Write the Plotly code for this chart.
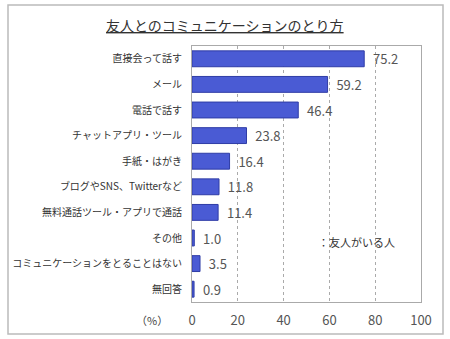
import plotly.graph_objects as go

categories = [
    "直接会って話す", "メール", "電話で話す", "チャットアプリ・ツール", "手紙・はがき",
    "ブログやSNS、Twitterなど", "無料通話ツール・アプリで通話", "その他",
    "コミュニケーションをとることはない", "無回答",
]
values = [75.2, 59.2, 46.4, 23.8, 16.4, 11.8, 11.4, 1.0, 3.5, 0.9]
tick_vals = [0, 20, 40, 60, 80, 100]
title_text = "友人とのコミュニケーションのとり方"
series_name = "：友人がいる人"

FONT = "Noto Sans CJK JP"
L, R, T, B = 192, 421, 46, 302
W, H = 450, 339

def px_x(p):
    return (p - L) / (R - L)

def px_y(p):
    return (B - p) / (B - T)

fig = go.Figure(go.Bar(
    y=categories, x=values, orientation="h",
    marker=dict(color="#4a5bd4", line=dict(color="#2f3ca6", width=1)),
    width=0.62,
    texttemplate="\u00a0\u00a0%{x:.1f}", textposition="outside", constraintext="none",
    textfont=dict(family=FONT, size=13, color="#555"),
    cliponaxis=False, name=series_name,
))

fig.update_layout(
    width=W, height=H, autosize=False,
    margin=dict(l=L, r=W - R, t=T, b=H - B, pad=0),
    paper_bgcolor="white", plot_bgcolor="white",
    showlegend=False,
    font=dict(family=FONT, color="#333"),
    xaxis=dict(
        range=[0, 100], tickvals=tick_vals, ticks="", showgrid=True,
        gridcolor="#aaa", griddash="dot", gridwidth=1, zeroline=False,
        showline=True, linecolor="#aaa", mirror=True, automargin=False,
        tickfont=dict(family=FONT, size=13, color="#555"), ticklabelstandoff=6,
    ),
    yaxis=dict(
        autorange="reversed", ticks="", showline=True, linecolor="#aaa", mirror=True,
        automargin=False,
        tickfont=dict(family=FONT, size=10, color="#333"), ticklabelstandoff=7,
    ),
    shapes=[dict(
        type="rect", xref="paper", yref="paper",
        x0=px_x(8), x1=px_x(443), y0=px_y(334), y1=px_y(5),
        line=dict(color="#bbb", width=1.5), fillcolor="rgba(0,0,0,0)", layer="below",
    )],
    annotations=[
        dict(text=f"<u>{title_text}</u>", xref="paper", yref="paper",
             x=px_x(225), y=px_y(25), showarrow=False,
             font=dict(family=FONT, size=14, color="#333"), xanchor="center", yanchor="middle"),
        dict(text="（%）", xref="paper", yref="paper", x=px_x(170), y=px_y(320),
             showarrow=False, font=dict(family=FONT, size=11, color="#444"),
             xanchor="right", yanchor="middle"),
        dict(text=series_name, xref="paper", yref="paper", x=px_x(316), y=px_y(242),
             showarrow=False, font=dict(family=FONT, size=11, color="#333"),
             xanchor="left", yanchor="middle"),
    ],
)

fig.write_html("out.html")
